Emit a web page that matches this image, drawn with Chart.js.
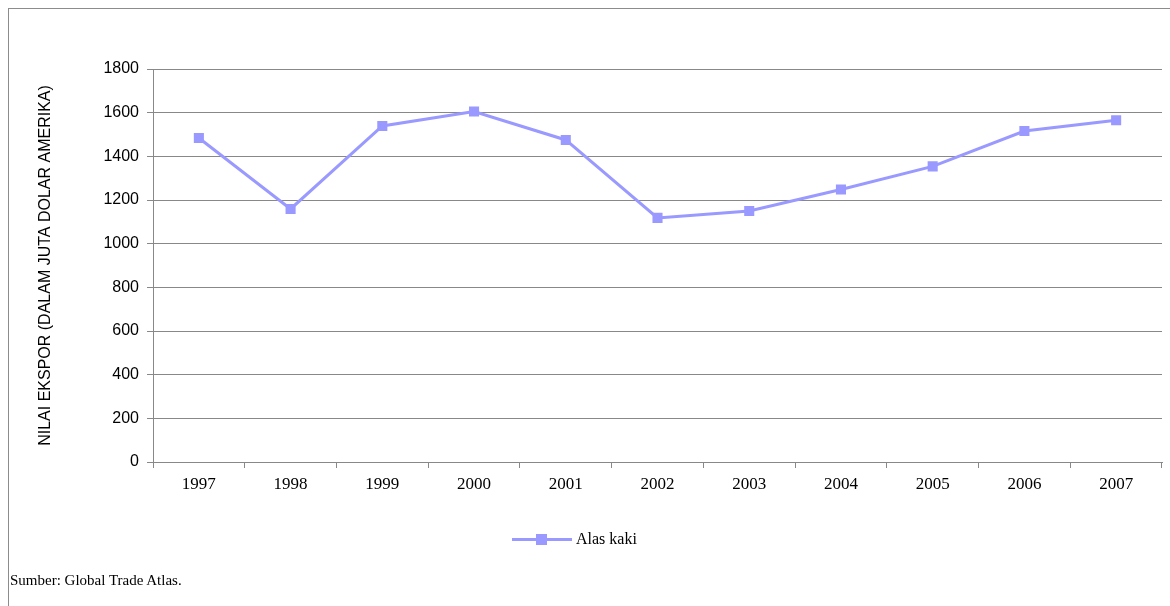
<!DOCTYPE html>
<html>
<head>
<meta charset="utf-8">
<script src="https://cdn.jsdelivr.net/npm/chart.js@4"></script>
<style>
  body { margin: 0; background: #fff; }
  #wrap { position: relative; width: 1170px; height: 606px; }
  #legend { position: absolute; left: 512px; top: 530px; font: 16px "Liberation Serif", serif; color: #000; display: flex; align-items: center; }
  #legend .line { position: relative; width: 60px; height: 3px; background: #9999ff; margin-right: 4px; }
  #legend .line::after { content: ""; position: absolute; left: 24px; top: -4px; width: 11px; height: 11px; background: #9999ff; }
  #source { position: absolute; left: 10px; top: 572px; font: 15px "Liberation Serif", serif; color: #000; }
</style>
</head>
<body>
<div id="wrap">
  <canvas id="chart" width="1170" height="606"></canvas>
  <div id="legend"><span class="line"></span>Alas kaki</div>
  <div id="source">Sumber: Global Trade Atlas.</div>
</div>
<script>
// Data
const years = ['1997', '1998', '1999', '2000', '2001', '2002', '2003', '2004', '2005', '2006', '2007'];
const alasKaki = [1484, 1159, 1539, 1605, 1475, 1118, 1150, 1248, 1354, 1516, 1565];
const seriesName = 'Alas kaki';
const yTitle = 'NILAI EKSPOR (DALAM JUTA DOLAR AMERIKA)';

// Outer frame like the spreadsheet chart border
const framePlugin = {
    id: 'frame',
    beforeDraw(chart) {
        const ctx = chart.ctx;
        ctx.save();
        ctx.strokeStyle = '#8c8c8c';
        ctx.lineWidth = 1;
        ctx.strokeRect(8.5, 8.5, 1170, 620);
        ctx.restore();
    }
};

new Chart(document.getElementById('chart'), {
    type: 'line',
    data: {
        labels: years,
        datasets: [{
            label: seriesName,
            data: alasKaki,
            borderColor: '#9999ff',
            backgroundColor: '#9999ff',
            borderWidth: 3,
            pointStyle: 'rect',
            pointRadius: 5,
            tension: 0
        }]
    },
    options: {
        responsive: false,
        animation: false,
        layout: { padding: { left: 36, right: -4, top: 69, bottom: 104 } },
        plugins: { legend: { display: false }, tooltip: { enabled: false } },
        scales: {
            x: {
                offset: true,
                afterFit: s => { s.height = 40; },
                grid: { display: true, drawOnChartArea: false, offset: true, color: '#888', tickLength: 6 },
                border: { color: '#888' },
                ticks: { color: '#000', font: { family: 'Liberation Serif', size: 17 }, padding: 6 }
            },
            y: {
                min: 0,
                max: 1800,
                afterFit: s => { s.width = 117; },
                ticks: { stepSize: 200, color: '#000', font: { family: 'Liberation Sans', size: 16 }, padding: 8,
                         callback: v => String(v) },
                grid: { color: '#888', tickLength: 6 },
                border: { color: '#888' },
                title: {
                    display: true,
                    text: yTitle,
                    color: '#000',
                    font: { family: 'Liberation Sans', size: 16 },
                    padding: { top: 0, bottom: 10 }
                }
            }
        }
    },
    plugins: [framePlugin]
});
</script>
</body>
</html>
